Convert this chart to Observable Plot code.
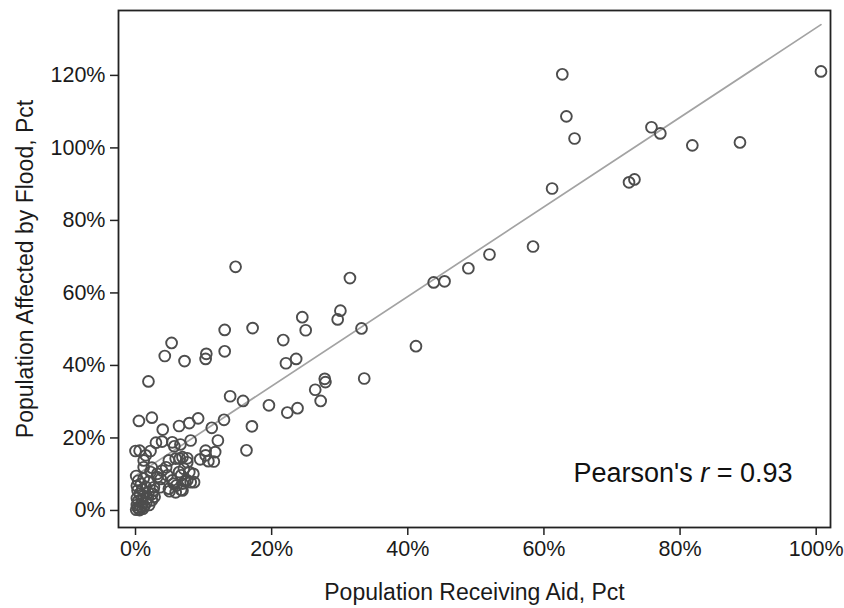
<!DOCTYPE html>
<html>
<head>
<meta charset="utf-8">
<script src="https://cdn.jsdelivr.net/npm/d3@7"></script>
<script src="https://cdn.jsdelivr.net/npm/@observablehq/plot@0.6"></script>
<style>
  html, body { margin: 0; padding: 0; background: #fff; }
  svg { display: block; }
</style>
</head>
<body>
<div id="chart"></div>
<script>
// Population receiving aid (%) — x values
const aidPct = [
  43.8, 45.4, 48.9, 52.0, 58.4, 61.2, 62.7, 63.3, 64.5, 72.5, 73.3, 75.8, 77.1, 81.8, 88.8, 100.7,
  17.2, 31.5, 24.5, 25.0, 30.1, 29.7, 21.7, 23.6, 22.1, 33.2, 41.2, 27.8, 27.9, 33.6, 26.4, 27.2,
  19.6, 22.3, 23.8, 17.1, 14.7, 13.1, 5.3, 4.3, 7.2, 10.4, 10.3, 13.1, 1.9, 13.9, 15.8,
  0.5, 2.4, 4.0, 6.4, 7.9, 9.2, 11.2, 13.0, 12.1, 16.3, 8.1, 0.0, 0.6, 2.2, 3.0, 3.9, 5.4, 5.7, 6.6,
  1.2, 2.4, 4.5, 6.5, 7.6, 9.5, 10.3, 11.7, 10.7, 11.5, 3.2, 4.7, 5.4, 6.7, 7.9, 8.5, 7.3, 8.1,
  5.0, 6.7, 6.0, 3.6,
  1.5, 1.2, 2.2, 4.9, 5.9, 6.9, 7.6, 10.3, 3.2, 3.7, 3.9, 6.4, 7.1, 5.6, 6.9, 7.6, 8.6, 4.9, 5.9, 6.9, 2.7, 2.5,
  0.1, 0.3, 0.2, 0.5, 0.8, 1.0, 0.4, 0.2, 0.9, 1.3, 1.6, 2.0, 1.2, 0.6, 0.3, 1.0, 1.8, 2.4, 0.2, 0.8,
  1.5, 0.4, 1.2, 2.0, 0.1, 2.6, 1.9, 0.6, 1.1, 2.8
];
// Population affected by flood (%) — y values
const floodPct = [
  62.9, 63.2, 66.8, 70.6, 72.8, 88.8, 120.3, 108.7, 102.6, 90.5, 91.3, 105.7, 104.0, 100.7, 101.5, 121.1,
  50.3, 64.1, 53.3, 49.7, 55.1, 52.7, 47.0, 41.8, 40.6, 50.2, 45.3, 36.3, 35.4, 36.4, 33.3, 30.2,
  29.0, 27.0, 28.2, 23.2, 67.2, 49.8, 46.2, 42.6, 41.2, 43.2, 41.8, 43.9, 35.6, 31.5, 30.2,
  24.7, 25.6, 22.3, 23.3, 24.1, 25.4, 22.8, 25.0, 19.3, 16.6, 19.3, 16.4, 16.5, 16.4, 18.7, 19.0, 18.8, 17.7, 18.2,
  13.8, 11.8, 11.9, 14.3, 14.4, 14.1, 16.5, 16.1, 13.6, 13.5, 9.2, 9.7, 8.3, 9.7, 10.6, 10.1, 8.0, 7.8,
  5.3, 5.7, 6.9, 6.4,
  15.2, 11.9, 10.6, 13.8, 14.3, 14.7, 13.3, 15.2, 10.1, 8.7, 11.0, 10.6, 11.5, 7.4, 7.4, 8.3, 7.8, 6.0, 5.0, 5.5, 6.4, 4.6,
  0.2, 0.8, 1.5, 0.4, 1.0, 2.0, 2.6, 3.4, 3.0, 1.2, 2.2, 1.5, 4.0, 4.6, 5.5, 5.8, 3.5, 2.8, 6.8, 7.4,
  6.5, 8.2, 8.8, 8.0, 9.5, 5.5, 4.9, 0.1, 0.5, 3.8
];
// Fitted line endpoints
const fitX = [0.0, 100.7];
const fitY = [9.6, 134.0];
// Tick values
const xTicks = [0, 20, 40, 60, 80, 100];
const yTicks = [0, 20, 40, 60, 80, 100, 120];
const annotation = ["Pearson's r = 0.93"];

const points = aidPct.map((x, i) => ({x, y: floodPct[i]}));
const fit = fitX.map((x, i) => ({x, y: fitY[i]}));

const font = "Liberation Sans, Arial, Helvetica, sans-serif";

const chart = Plot.plot({
  width: 844,
  height: 608,
  marginLeft: 118,
  marginRight: 14,
  marginTop: 10,
  marginBottom: 81,
  style: {fontFamily: font, fontSize: "21px", color: "#1a1a1a", background: "#fff"},
  x: {domain: [-2.5, 102.1], ticks: xTicks, tickFormat: d => d + "%"},
  y: {domain: [-4.7, 137.9], ticks: yTicks, tickFormat: d => d + "%"},
  marks: [
    Plot.line(fit, {x: "x", y: "y", stroke: "#a3a3a3", strokeWidth: 1.7}),
    Plot.dot(points, {x: "x", y: "y", r: 5.4, stroke: "#4d4d4d", strokeWidth: 1.9, fill: "none"}),
    Plot.frame({stroke: "#222", strokeWidth: 1.8}),
    Plot.axisX({ticks: xTicks, tickFormat: d => d + "%", tickSize: 8, tickPadding: 5, stroke: "#222", strokeWidth: 1.5,
      fontSize: 21.5, label: "Population Receiving Aid, Pct", labelAnchor: "center", labelArrow: "none", labelOffset: 72}),
    Plot.axisY({ticks: yTicks, tickFormat: d => d + "%", tickSize: 8, tickPadding: 5, stroke: "#222", strokeWidth: 1.5,
      fontSize: 21.5, label: "Population Affected by Flood, Pct", labelAnchor: "center", labelArrow: "none", labelOffset: 102}),
    Plot.text(annotation, {frameAnchor: "bottom-right", dx: -38, dy: -54, textAnchor: "end", lineAnchor: "middle", fontSize: 27, fill: "#111", className: "pearson"})
  ]
});

document.getElementById("chart").appendChild(chart);

// Italicize the "r" in the annotation
d3.select(chart).selectAll(".pearson text").each(function() {
  const t = d3.select(this);
  t.text(null);
  t.append("tspan").text("Pearson's ");
  t.append("tspan").attr("font-style", "italic").text("r");
  t.append("tspan").text(" = 0.93");
});
d3.select(chart).selectAll("[aria-label='x-axis label'] text, [aria-label='y-axis label'] text").attr("font-size", 23);
</script>
</body>
</html>
